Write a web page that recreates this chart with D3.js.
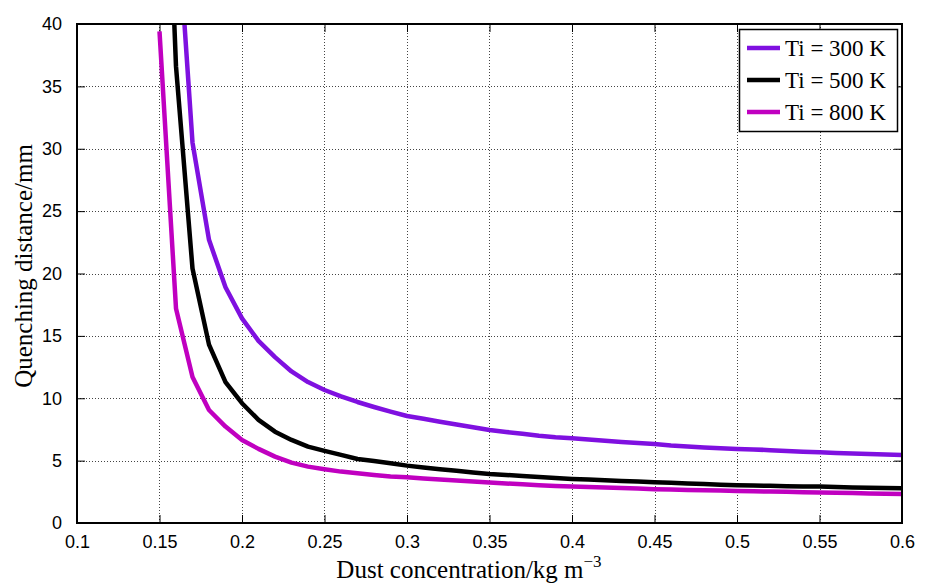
<!DOCTYPE html>
<html>
<head>
<meta charset="utf-8">
<script src="https://cdn.jsdelivr.net/npm/d3@7/dist/d3.min.js"></script>
<style>
  html, body { margin: 0; padding: 0; background: #fff; }
  svg { display: block; }
</style>
</head>
<body>
<svg id="chart" width="932" height="586"></svg>
<script>
// Dust concentration (kg m^-3) sample points
const concentration = [0.15, 0.16, 0.17, 0.18, 0.19, 0.20, 0.21, 0.22, 0.23, 0.24,
  0.25, 0.26, 0.27, 0.28, 0.29, 0.30, 0.31, 0.32, 0.33, 0.34,
  0.35, 0.36, 0.37, 0.38, 0.39, 0.40, 0.41, 0.42, 0.43, 0.44,
  0.45, 0.46, 0.47, 0.48, 0.49, 0.50, 0.51, 0.52, 0.53, 0.54,
  0.55, 0.56, 0.57, 0.58, 0.59, 0.60];

// Quenching distance (mm) for each initial temperature
const ti300 = [null, 50, 30.5, 22.7, 18.9, 16.4, 14.6, 13.3, 12.15, 11.3,
  10.66, 10.15, 9.7, 9.3, 8.93, 8.58, 8.35, 8.12, 7.9, 7.68,
  7.46, 7.3, 7.15, 7.0, 6.88, 6.79, 6.7, 6.6, 6.5, 6.42,
  6.33, 6.22, 6.14, 6.06, 6.0, 5.94, 5.9, 5.84, 5.78, 5.72,
  5.67, 5.62, 5.58, 5.53, 5.5, 5.46];
const ti500 = [70, 36.6, 20.4, 14.3, 11.3, 9.6, 8.27, 7.32, 6.66, 6.12,
  5.78, 5.46, 5.13, 4.97, 4.79, 4.6, 4.45, 4.31, 4.18, 4.05,
  3.93, 3.85, 3.76, 3.68, 3.6, 3.53, 3.48, 3.42, 3.37, 3.32,
  3.27, 3.22, 3.17, 3.12, 3.07, 3.03, 3.0, 2.98, 2.95, 2.93,
  2.92, 2.88, 2.85, 2.82, 2.8, 2.79];
const ti800 = [39.4, 17.2, 11.7, 9.06, 7.73, 6.66, 5.94, 5.32, 4.84, 4.52,
  4.31, 4.12, 3.99, 3.85, 3.72, 3.67, 3.57, 3.48, 3.4, 3.32,
  3.24, 3.17, 3.1, 3.03, 2.97, 2.92, 2.88, 2.84, 2.8, 2.76,
  2.71, 2.68, 2.65, 2.62, 2.6, 2.57, 2.55, 2.52, 2.5, 2.47,
  2.44, 2.42, 2.4, 2.37, 2.35, 2.33];

const seriesNames = ["Ti = 300 K", "Ti = 500 K", "Ti = 800 K"];
const seriesColors = ["#7f10e0", "#000000", "#c000c0"];
const seriesValues = [ti300, ti500, ti800];

const xTicks = [0.1, 0.15, 0.2, 0.25, 0.3, 0.35, 0.4, 0.45, 0.5, 0.55, 0.6];
const yTicks = [0, 5, 10, 15, 20, 25, 30, 35, 40];

const svg = d3.select("#chart");
const L = 77, R = 902, T = 24, B = 523;

const x = d3.scaleLinear().domain([0.1, 0.6]).range([L, R]);
const y = d3.scaleLinear().domain([0, 40]).range([B, T]);

const sans = "'Liberation Sans', Arial, Helvetica, sans-serif";
const serif = "'Liberation Serif', 'Times New Roman', Times, serif";

svg.append("defs").append("clipPath").attr("id", "plotClip")
  .append("rect").attr("x", L).attr("y", T).attr("width", R - L).attr("height", B - T);

// dotted grid
const grid = svg.append("g").attr("stroke", "#444").attr("stroke-width", 1)
  .attr("stroke-dasharray", "1,2");
grid.selectAll("line.gx").data(xTicks.slice(1, -1)).join("line")
  .attr("x1", d => Math.round(x(d)) + 0.5).attr("x2", d => Math.round(x(d)) + 0.5)
  .attr("y1", T).attr("y2", B);
grid.selectAll("line.gy").data(yTicks.slice(1, -1)).join("line")
  .attr("y1", d => Math.round(y(d)) + 0.5).attr("y2", d => Math.round(y(d)) + 0.5)
  .attr("x1", L).attr("x2", R);

// axes with inward ticks on all four sides
const tickLen = 8;
const xAxisB = d3.axisBottom(x).tickValues(xTicks).tickSizeInner(-tickLen).tickSizeOuter(0)
  .tickPadding(tickLen + 4).tickFormat(d => String(+d.toFixed(2)));
const xAxisT = d3.axisTop(x).tickValues(xTicks).tickSizeInner(-tickLen).tickSizeOuter(0).tickFormat("");
const yAxisL = d3.axisLeft(y).tickValues(yTicks).tickSizeInner(-tickLen).tickSizeOuter(0)
  .tickPadding(tickLen + 7);
const yAxisR = d3.axisRight(y).tickValues(yTicks).tickSizeInner(-tickLen).tickSizeOuter(0).tickFormat("");

function styleAxis(g) {
  g.select(".domain").remove();
  g.selectAll(".tick line").attr("stroke", "#000").attr("stroke-width", 1);
  g.selectAll(".tick text").attr("fill", "#000").style("font-family", sans).style("font-size", "18px");
}
svg.append("g").attr("transform", `translate(0,${B})`).call(xAxisB).call(styleAxis);
svg.append("g").attr("transform", `translate(0,${T})`).call(xAxisT).call(styleAxis);
svg.append("g").attr("transform", `translate(${L},0)`).call(yAxisL).call(styleAxis);
svg.append("g").attr("transform", `translate(${R},0)`).call(yAxisR).call(styleAxis);

// curves
const line = d3.line()
  .defined(d => d[1] != null)
  .x(d => x(d[0])).y(d => y(d[1]));
const curves = svg.append("g").attr("clip-path", "url(#plotClip)");
seriesValues.forEach((vals, i) => {
  curves.append("path")
    .datum(concentration.map((c, j) => [c, vals[j]]))
    .attr("fill", "none")
    .attr("stroke", seriesColors[i])
    .attr("stroke-width", 4.5)
    .attr("stroke-linejoin", "round")
    .attr("d", line);
});

// plot box
svg.append("rect").attr("x", L).attr("y", T).attr("width", R - L).attr("height", B - T)
  .attr("fill", "none").attr("stroke", "#000").attr("stroke-width", 2);

// legend
const lg = svg.append("g");
lg.append("rect").attr("x", 739.5).attr("y", 29.5).attr("width", 158).attr("height", 102)
  .attr("fill", "#fff").attr("stroke", "#000").attr("stroke-width", 1.5);
seriesNames.forEach((name, i) => {
  const yy = 48 + i * 32;
  lg.append("line").attr("x1", 747).attr("x2", 780).attr("y1", yy).attr("y2", yy)
    .attr("stroke", seriesColors[i]).attr("stroke-width", 4.5);
  lg.append("text").attr("x", 785).attr("y", yy + 8)
    .style("font-family", serif).style("font-size", "23px").attr("fill", "#000").text(name);
});

// axis titles
const xt = svg.append("text").attr("x", 469).attr("y", 578).attr("text-anchor", "middle")
  .style("font-family", serif).style("font-size", "25px").attr("fill", "#000");
xt.append("tspan").text("Dust concentration/kg m");
xt.append("tspan").attr("dy", -11).style("font-size", "17px").text("\u22123");

svg.append("text").attr("transform", `translate(32,266) rotate(-90)`)
  .attr("text-anchor", "middle")
  .style("font-family", serif).style("font-size", "25px").attr("fill", "#000")
  .text("Quenching distance/mm");
</script>
</body>
</html>
